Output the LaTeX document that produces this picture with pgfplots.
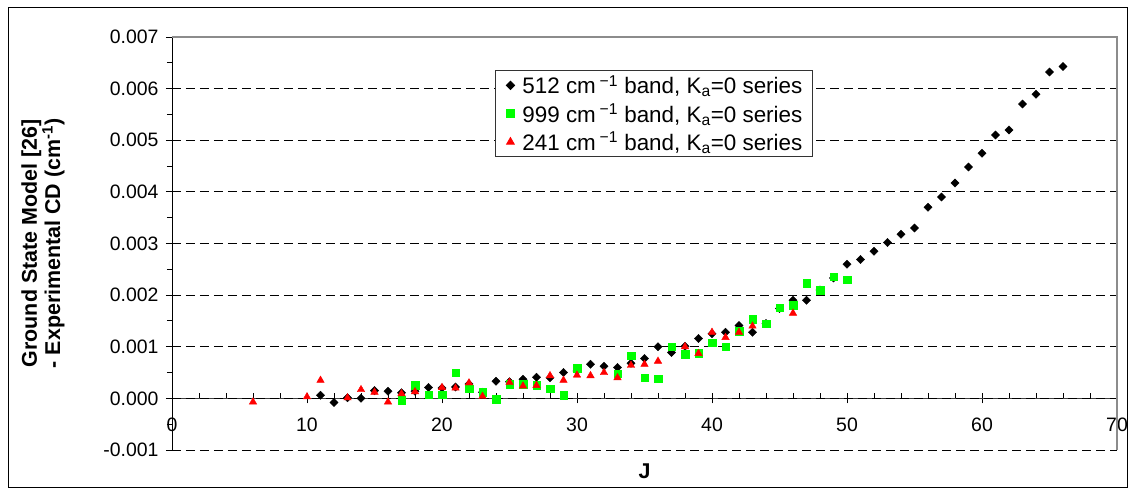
\documentclass[border=0pt]{standalone}
\usepackage{fontspec}
\setmainfont{Liberation Sans}
\usepackage{pgfplots}
\usepackage{pgfplotstable}
\pgfplotsset{compat=1.18}

\definecolor{sqgreen}{RGB}{0,255,0}
\definecolor{trired}{RGB}{255,0,0}

% 512 cm-1 band, Ka=0 series
\pgfplotstableread{
J d
11 0.00006
12 -0.00008
13 0.00001
14 0.00000
15 0.00015
16 0.00014
17 0.00011
18 0.00014
19 0.00021
20 0.00020
21 0.00022
22 0.00028
23 0.00012
24 0.00033
25 0.00032
26 0.00037
27 0.00041
28 0.00040
29 0.00050
30 0.00053
31 0.00066
32 0.00062
33 0.00060
34 0.00068
35 0.00077
36 0.00100
37 0.00089
38 0.00101
39 0.00116
40 0.00125
41 0.00128
42 0.00141
43 0.00128
44 0.00145
45 0.00174
46 0.00190
47 0.00190
48 0.00210
49 0.00233
50 0.00260
51 0.00269
52 0.00285
53 0.00302
54 0.00318
55 0.00330
56 0.00370
57 0.00390
58 0.00417
59 0.00448
60 0.00475
61 0.00510
62 0.00520
63 0.00570
64 0.00589
65 0.00632
66 0.00643
}\bandFiveTwelve

% 999 cm-1 band, Ka=0 series
\pgfplotstableread{
J d
17 -0.00004
18 0.00025
19 0.00007
20 0.00007
21 0.00050
22 0.00019
23 0.00012
24 -0.00002
25 0.00027
26 0.00028
27 0.00025
28 0.00019
29 0.00006
30 0.00059
33 0.00048
34 0.00083
35 0.00040
36 0.00038
37 0.00100
38 0.00085
39 0.00087
40 0.00108
41 0.00100
42 0.00130
43 0.00153
44 0.00145
45 0.00176
46 0.00180
47 0.00223
48 0.00210
49 0.00236
50 0.00230
}\bandNineNineNine

% 241 cm-1 band, Ka=0 series
\pgfplotstableread{
J d
6 -0.00007
10 0.00003
11 0.00035
13 0.00001
14 0.00017
15 0.00012
16 -0.00007
17 0.00009
18 0.00013
20 0.00021
21 0.00020
22 0.00030
23 0.00004
25 0.00031
26 0.00024
27 0.00025
28 0.00044
29 0.00035
30 0.00045
31 0.00044
32 0.00050
33 0.00040
34 0.00064
35 0.00066
36 0.00072
38 0.00100
39 0.00087
40 0.00128
41 0.00118
42 0.00128
43 0.00140
46 0.00165
}\bandTwoFortyOne

\pgfplotsset{
  chartbox/.style={
    at={(0,0)}, anchor=south west,
    scale only axis, width=945bp, height=413bp,
    xmin=0, xmax=70, ymin=-0.001, ymax=0.007,
  },
}

\begin{document}
\begin{tikzpicture}
% x axis drawn through y = 0 with its own tick lengths
\begin{axis}[
  chartbox,
  axis x line=middle, axis y line=none,
  axis line style={-, black!75, line width=1.6bp},
  xtick={0,10,...,70},
  minor x tick num=4,
  hide obscured x ticks=false,
  tick align=inside,
  major tick length=10bp, minor tick length=5bp,
  every major x tick/.append style={yshift=-5bp},
  tick style={black, line width=0.9bp},
  xticklabel style={font=\fontsize{19.5}{19.5}\selectfont, yshift=-16bp,
    /pgf/number format/assume math mode=true},
  ytick=\empty,
  xlabel={J},
  every axis x label/.style={at={(rel axis cs:0.5,0)}, yshift=-21bp,
    anchor=center, font=\bfseries\fontsize{21.5}{21.5}\selectfont},
]
\end{axis}

\begin{axis}[
  chartbox,
  axis x line=none, axis y line=left,
  axis line style={-, black, line width=0.9bp},
  xtick=\empty,
  ytick={-0.001,0,0.001,0.002,0.003,0.004,0.005,0.006,0.007},
  minor y tick num=1,
  tick align=outside,
  major tick length=6bp, minor tick length=5bp,
  tick style={black, line width=0.9bp},
  scaled y ticks=false,
  yticklabel style={font=\fontsize{19.5}{19.5}\selectfont, xshift=-4bp,
    /pgf/number format/.cd, fixed, fixed zerofill, precision=3,
    assume math mode=true},
  ymajorgrids,
  major grid style={black, line width=0.9bp, dash pattern=on 9bp off 5bp},
  ylabel={Ground State Model [26]\\- Experimental CD (cm\textsuperscript{-1})},
  every axis y label/.style={at={(rel axis cs:0,0.5)}, xshift=-129bp,
    rotate=90, anchor=center, align=center,
    font=\bfseries\fontsize{21.5}{20}\selectfont},
  clip=false,
  legend style={at={(0.3418,0.92)}, anchor=north west,
    draw=black!80, line width=0.9bp, fill=white,
    font=\fontsize{22.5}{22.5}\selectfont,
    inner xsep=8bp, inner ysep=3bp,
    row sep=4.5bp},
  legend cell align=left,
  legend image code/.code={
    \path[draw=none, fill=none] (0bp,0bp) -- (17bp,0bp);
    \path[#1, draw=none] plot coordinates {(7bp,0bp)};},
]
% page area and outer chart frame
\path ([xshift=-172bp, yshift=-38bp]rel axis cs:0,0)
  rectangle ([xshift=18bp, yshift=37bp]rel axis cs:1,1);
\draw[black, line width=0.9bp]
  ([xshift=-163.5bp, yshift=-37bp]rel axis cs:0,0)
  rectangle ([xshift=10bp, yshift=29.5bp]rel axis cs:1,1);
% plot area border
\draw[black!45, line width=1.2bp] (rel axis cs:0,1) -- (rel axis cs:1,1) -- (rel axis cs:1,0);

\addplot[only marks, mark=square*, mark size=2.9bp,
  mark options={rotate=45, fill=black, draw=black}]
  table[x=J, y=d] {\bandFiveTwelve};
\addlegendentry{512 cm\,\textsuperscript{−1} band, K\textsubscript{a}=0 series}

\addplot[only marks, mark=square*, mark size=3.8bp,
  mark options={fill=sqgreen, draw=sqgreen}]
  table[x=J, y=d] {\bandNineNineNine};
\addlegendentry{999 cm\,\textsuperscript{−1} band, K\textsubscript{a}=0 series}

\addplot[only marks, mark=triangle*, mark size=4.3bp,
  mark options={fill=trired, draw=trired}]
  table[x=J, y=d] {\bandTwoFortyOne};
\addlegendentry{241 cm\,\textsuperscript{−1} band, K\textsubscript{a}=0 series}
\end{axis}
\end{tikzpicture}
\end{document}
